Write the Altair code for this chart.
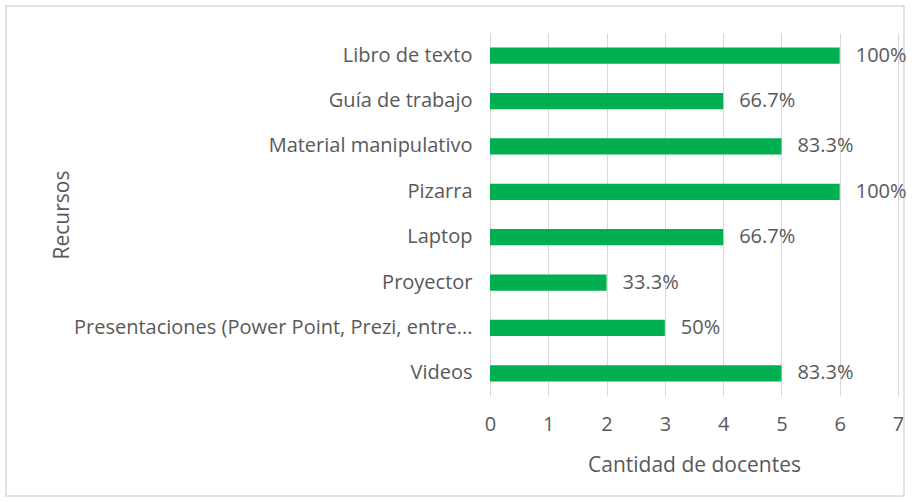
import altair as alt
import pandas as pd

recursos = [
    "Libro de texto",
    "Guía de trabajo",
    "Material manipulativo",
    "Pizarra",
    "Laptop",
    "Proyector",
    "Presentaciones (Power Point, Prezi, entre...",
    "Videos",
]
docentes = [6, 4, 5, 6, 4, 2, 3, 5]
porcentajes = ["100%", "66.7%", "83.3%", "100%", "66.7%", "33.3%", "50%", "83.3%"]
x_ticks = [0, 1, 2, 3, 4, 5, 6, 7]

df = pd.DataFrame({"Recurso": recursos, "Docentes": docentes, "Pct": porcentajes})

FONT = "Open Sans"
GRAY = "#595959"
FS = 20

y_enc = alt.Y(
    "Recurso:N",
    sort=recursos,
    title="Recursos",
    scale=alt.Scale(paddingInner=0.64, paddingOuter=0.32),
    axis=alt.Axis(
        labelFontSize=FS,
        labelColor=GRAY,
        labelFont=FONT,
        labelPadding=18,
        labelLimit=600,
        ticks=False,
        domain=True,
        domainColor="#d9d9d9",
        titleFontSize=21,
        titleFont=FONT,
        titleColor=GRAY,
        titleFontWeight="normal",
        titlePadding=0,
        titleX=-418,
    ),
)

x_enc = alt.X(
    "Docentes:Q",
    title="Cantidad de docentes",
    scale=alt.Scale(domain=[0, 7], nice=False),
    axis=alt.Axis(
        values=x_ticks,
        format="d",
        labelFlush=False,
        labelFontSize=FS,
        labelColor=GRAY,
        labelFont=FONT,
        labelPadding=18,
        ticks=False,
        domain=False,
        grid=True,
        gridColor="#d9d9d9",
        titleFontSize=21,
        titleFont=FONT,
        titleColor=GRAY,
        titleFontWeight="normal",
        titlePadding=20,
    ),
)

bars = alt.Chart(df).mark_bar(color="#00B050").encode(x=x_enc, y=y_enc)

labels = alt.Chart(df).mark_text(
    align="left", baseline="middle", dx=16, fontSize=FS, font=FONT, color=GRAY
).encode(
    x=alt.X("Docentes:Q"),
    y=alt.Y("Recurso:N", sort=recursos),
    text="Pct:N",
)

border = alt.Chart(pd.DataFrame({"a": [0]})).mark_rect(
    fill=None, stroke="#d9d9d9", strokeWidth=1.5
).encode(
    x=alt.value(-484), x2=alt.value(414), y=alt.value(-27), y2=alt.value(463)
)

chart = (
    alt.layer(border, bars, labels)
    .properties(
        width=408,
        height=363,
        autosize=alt.AutoSizeParams(type="none"),
        padding={"left": 490, "top": 33, "right": 20, "bottom": 106},
        background="white",
    )
    .configure_view(stroke=None)
)

chart.save("out.html", embed_options={"renderer": "svg", "actions": False})
